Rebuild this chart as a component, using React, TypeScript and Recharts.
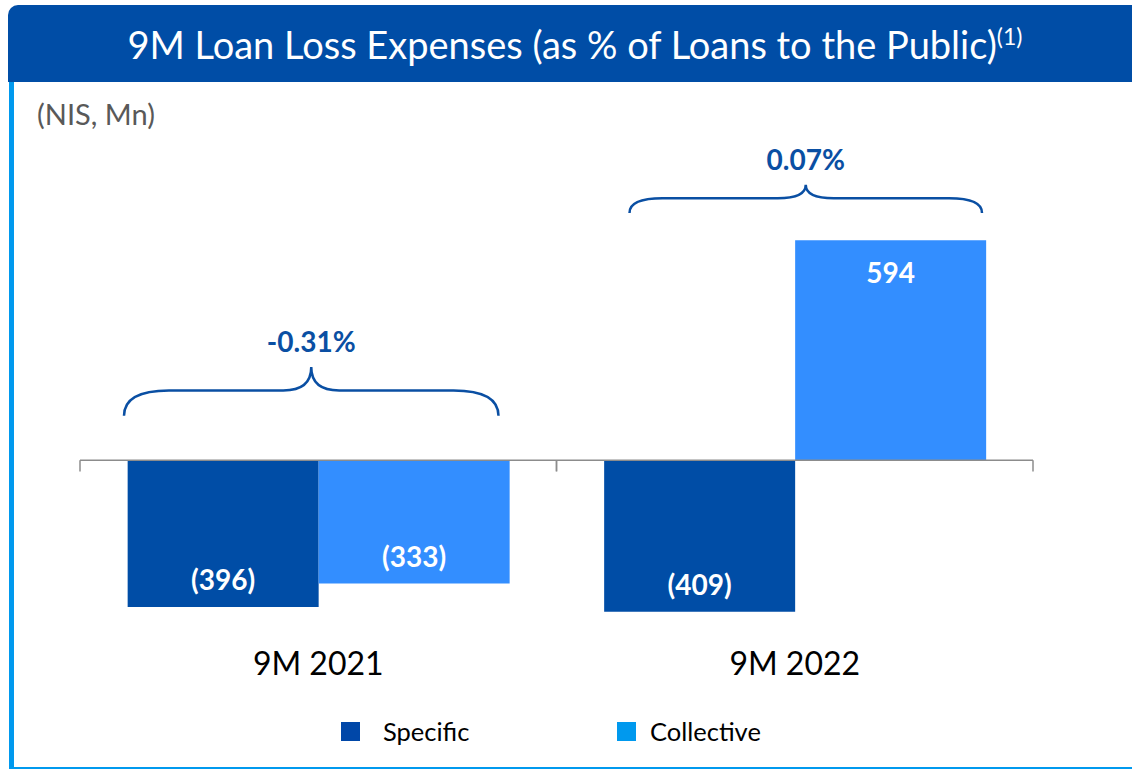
import React from 'react';
import { BarChart, Bar, XAxis, YAxis, ReferenceLine, ReferenceArea, LabelList, Legend } from 'recharts';

const periods = ['9M 2021', '9M 2022'];
const specific = [-396, -409];
const collective = [-333, 594];
const ratios = ['-0.31%', '0.07%'];
const seriesOrder = ['specific', 'collective'];

const data = periods.map((period, i) => ({
  period,
  specific: specific[i],
  collective: collective[i],
}));

const FONT = 'Lato, "Open Sans", sans-serif';
const DARK = '#004DA6';
const LIGHT = '#338EFF';
const NAVY = '#0A4FA3';
const EDGE = '#0099EE';
const legendColors: Record<string, string> = { specific: '#0047A8', collective: '#0099EE' };

const BarValue = (props: any) => {
  const { x, y, width, height, value } = props;
  const top = Math.min(y, y + height);
  const bottom = Math.max(y, y + height);
  const ty = value < 0 ? bottom - 28 : top + 32;
  const text = value < 0 ? `(${Math.abs(value)})` : `${value}`;
  return (
    <text x={x + width / 2} y={ty} textAnchor="middle" dominantBaseline="central"
      fill="#fff" fontSize={28} fontWeight={700} fontFamily={FONT}>
      {text}
    </text>
  );
};

// curly brace drawn across a category band, peak at top of the area
const makeBrace = (label: string, leftIn: number, rightIn: number, reach: number) => (props: any) => {
  const { x, y, width, height } = props;
  const x1 = x + leftIn;
  const x2 = x + width - rightIn;
  const xc = (x1 + x2) / 2;
  const yEnd = y + height;
  const yH = y + height * 0.48;
  const d = [
    `M ${x1} ${yEnd}`,
    `Q ${x1} ${yH} ${x1 + reach} ${yH}`,
    `L ${xc - 28} ${yH}`,
    `Q ${xc} ${yH} ${xc} ${y}`,
    `Q ${xc} ${yH} ${xc + 28} ${yH}`,
    `L ${x2 - reach} ${yH}`,
    `Q ${x2} ${yH} ${x2} ${yEnd}`,
  ].join(' ');
  return (
    <g>
      <path d={d} fill="none" stroke={NAVY} strokeWidth={2.5} />
      <text x={xc} y={y - 26} textAnchor="middle" dominantBaseline="central"
        fill={NAVY} fontSize={28} fontWeight={700} fontFamily={FONT}>
        {label}
      </text>
    </g>
  );
};

const BandTicks = (props: any) => {
  const { x, y, width, height } = props;
  return (
    <g stroke="#8C8C8C" strokeWidth={1.5}>
      <line x1={x} y1={y} x2={x} y2={y + height} />
      <line x1={x + width} y1={y} x2={x + width} y2={y + height} />
    </g>
  );
};

const LegendBox = (props: any) => {
  const items = [...(props.payload || [])].sort(
    (a: any, b: any) => seriesOrder.indexOf(a.dataKey) - seriesOrder.indexOf(b.dataKey)
  );
  const lefts = [341, 617];
  return (
    <div style={{ position: 'relative', width: 1132, height: 40 }}>
      {items.map((entry: any, i: number) => (
        <div key={entry.value} style={{ position: 'absolute', left: lefts[i], top: 0, display: 'flex', alignItems: 'center', height: 40 }}>
          <span style={{ width: 19, height: 19, background: legendColors[entry.dataKey] || entry.color, display: 'inline-block' }} />
          <span style={{ marginLeft: i === 0 ? 23 : 14, fontSize: 25.5, fontFamily: FONT, color: '#000' }}>{entry.value}</span>
        </div>
      ))}
    </div>
  );
};

export default function App() {
  return (
    <div style={{ position: 'absolute', left: 0, top: 0, width: 1132, height: 770, background: '#fff', fontFamily: FONT }}>
      <div style={{
        position: 'absolute', left: 8, top: 5, width: 1124, height: 77, background: DARK,
        borderTopLeftRadius: 10, color: '#fff', fontSize: 38, display: 'flex',
        alignItems: 'center', justifyContent: 'center', paddingLeft: 10, boxSizing: 'border-box',
      }}>
        <span>9M Loan Loss Expenses (as % of Loans to the Public)<sup style={{ fontSize: 23 }}>(1)</sup></span>
      </div>
      <div style={{ position: 'absolute', left: 9, top: 82, width: 5, height: 686, background: EDGE }} />
      <div style={{ position: 'absolute', left: 9, top: 767, width: 1123, height: 2, background: EDGE }} />
      <div style={{ position: 'absolute', left: 37, top: 96, fontSize: 29, color: '#595959' }}>(NIS, Mn)</div>

      <div style={{ position: 'absolute', left: 0, top: 0 }}>
        <BarChart width={1132} height={770} data={data}
          margin={{ top: 90, right: 99, left: 80, bottom: 72 }}
          barCategoryGap="10%" barGap={0}>
          <XAxis dataKey="period" axisLine={false} tickLine={false} height={60} interval={0}
            tickMargin={8} tick={{ fontSize: 32, fill: '#000', fontFamily: FONT }} />
          <YAxis hide type="number" domain={[-480, 1000]} />
          <ReferenceLine y={0} stroke="#8C8C8C" strokeWidth={1.5} />
          {periods.map((p) => (
            <ReferenceArea key={`t-${p}`} x1={p} x2={p} y1={0} y2={-30} ifOverflow="visible" shape={BandTicks} />
          ))}
          <ReferenceArea x1={periods[0]} x2={periods[0]} y1={120} y2={252} ifOverflow="visible"
            shape={makeBrace(ratios[0], 44, 58, 45)} />
          <ReferenceArea x1={periods[1]} x2={periods[1]} y1={668} y2={744} ifOverflow="visible"
            shape={makeBrace(ratios[1], 73, 51, 33)} />
          <Bar dataKey="specific" name="Specific" fill={DARK} isAnimationActive={false}>
            <LabelList dataKey="specific" content={BarValue} />
          </Bar>
          <Bar dataKey="collective" name="Collective" fill={LIGHT} isAnimationActive={false}>
            <LabelList dataKey="collective" content={BarValue} />
          </Bar>
          <Legend layout="horizontal" verticalAlign="middle" align="center" content={LegendBox}
            wrapperStyle={{ top: 711, left: 0, width: 1132, height: 40 }} />
        </BarChart>
      </div>
    </div>
  );
}
